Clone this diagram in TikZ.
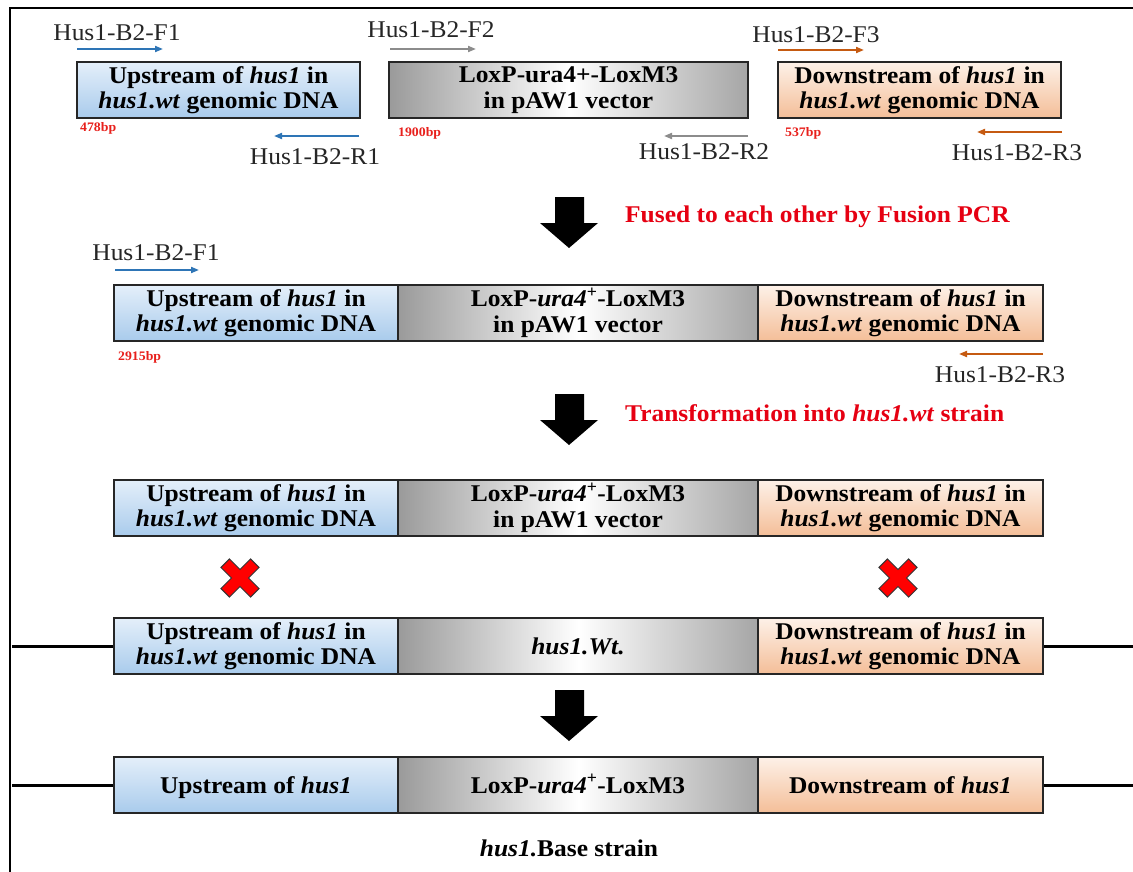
\documentclass[tikz,border=0pt]{standalone}
\usepackage{fontspec}
\setmainfont[FakeStretch=1.06]{Liberation Serif}
\usetikzlibrary{arrows.meta}

\definecolor{upT}{HTML}{E4EFFA}
\definecolor{upB}{HTML}{A9CBEC}
\definecolor{dnT}{HTML}{FDF1E8}
\definecolor{dnB}{HTML}{F4BE98}
\definecolor{gxL}{HTML}{9A9A9A}
\definecolor{gxR}{HTML}{A6A6A6}
\definecolor{pblue}{HTML}{2E75B6}
\definecolor{pgray}{HTML}{8C8C8C}
\definecolor{porange}{HTML}{C55A11}
\definecolor{bpred}{HTML}{E8201C}
\definecolor{stepred}{HTML}{E60012}

\newcommand{\boxfont}{\fontsize{24}{25.5}\selectfont\bfseries}
\newcommand{\primerfont}{\fontsize{24}{25}\selectfont}
\newcommand{\bpfont}{\fontsize{13}{14}\selectfont\bfseries}
\newcommand{\stepfont}{\fontsize{24}{25}\selectfont\bfseries}

\tikzset{
  seg/.style={draw=black!85, line width=1.6pt, minimum height=56pt, inner sep=0pt,
    align=center, font=\boxfont},
  upbox/.style={seg, top color=upT, bottom color=upB},
  loxbox/.style={seg, left color=gxL, right color=gxR, middle color=white},
  dnbox/.style={seg, top color=dnT, bottom color=dnB},
  % one-line labels: capitals centred in the box whatever the descenders
  oneline/.style={text height=16pt, text depth=0pt},
  primer/.style={font=\primerfont, inner sep=0pt, text=black!85},
  bplabel/.style={font=\bpfont, text=bpred, inner sep=0pt, anchor=west},
  parr/.style={line width=1.8pt, -{Triangle[length=8pt,width=6pt]}},
  steptext/.style={font=\stepfont, text=stepred, inner sep=0pt, anchor=west},
  chrom/.style={line width=3pt, black},
  crossmark/.style={fill=red, draw=black!80, line width=1pt, line join=miter},
}

% block down arrow centred at x, top at y
\newcommand{\downarrowat}[2]{%
  \fill[black] (#1-14,#2) -- (#1+15,#2) -- (#1+15,#2+26) -- (#1+29,#2+26)
    -- (#1,#2+51) -- (#1-29,#2+26) -- (#1-14,#2+26) -- cycle;}
% red cross centred at (x,y)
\newcommand{\crossat}[2]{%
  \draw[crossmark, shift={(#1,#2)}, rotate=45]
    (6,21) -- (6,6) -- (21,6) -- (21,-6) -- (6,-6) -- (6,-21) -- (-6,-21)
    -- (-6,-6) -- (-21,-6) -- (-21,6) -- (-6,6) -- (-6,21) -- cycle;}

\begin{document}
\begin{tikzpicture}[x=1pt,y=-1pt]
\useasboundingbox (0,0) rectangle (1133,872);
\fill[white] (0,0) rectangle (1133,872);
\draw[line width=2pt] (10,872) -- (10,8) -- (1133,8);

% ---- separate PCR fragments ----
\node[upbox, minimum width=283pt] (a1) at (218.5,90) {Upstream of \textit{hus1} in\\\textit{hus1.wt} genomic DNA};
\node[loxbox, minimum width=359pt] (a2) at (568.5,90) {LoxP-ura4+-LoxM3\\in pAW1 vector};
\node[dnbox, minimum width=283pt] (a3) at (919.5,90) {Downstream of \textit{hus1} in\\\textit{hus1.wt} genomic DNA};

\node[primer] (f1) at (117,33) {Hus1-B2-F1};
\coordinate (f1s) at (77,49); \coordinate (f1e) at (163,49);
\draw[parr, pblue] (f1s) -- (f1e);
\node[bplabel] (bp1) at (80,128) {478bp};
\coordinate (r1s) at (359,136); \coordinate (r1e) at (274,136);
\draw[parr, pblue] (r1s) -- (r1e);
\node[primer] (r1) at (315,157) {Hus1-B2-R1};

\node[primer] (f2) at (431,30) {Hus1-B2-F2};
\coordinate (f2s) at (390,49); \coordinate (f2e) at (476,49);
\draw[parr, pgray] (f2s) -- (f2e);
\node[bplabel] (bp2) at (398,133) {1900bp};
\coordinate (r2s) at (748,136); \coordinate (r2e) at (664,136);
\draw[parr, pgray] (r2s) -- (r2e);
\node[primer] (r2) at (704,152) {Hus1-B2-R2};

\node[primer] (f3) at (816,35) {Hus1-B2-F3};
\coordinate (f3s) at (778,50); \coordinate (f3e) at (864,50);
\draw[parr, porange] (f3s) -- (f3e);
\node[bplabel] (bp3) at (785,133) {537bp};
\coordinate (r3s) at (1062,132); \coordinate (r3e) at (977,132);
\draw[parr, porange] (r3s) -- (r3e);
\node[primer] (r3) at (1017,153) {Hus1-B2-R3};

% ---- fusion PCR ----
\downarrowat{569}{197}
\node[steptext] (s1) at (625,217) {Fused to each other by Fusion PCR};

\node[upbox, minimum width=284pt] (b1) at (256,313) {Upstream of \textit{hus1} in\\\textit{hus1.wt} genomic DNA};
\node[loxbox, minimum width=360pt] (b2) at (578,313) {LoxP-\textit{ura4}\textsuperscript{+}-LoxM3\\in pAW1 vector};
\node[dnbox, minimum width=285pt] (b3) at (900.5,313) {Downstream of \textit{hus1} in\\\textit{hus1.wt} genomic DNA};

\node[primer] (g1) at (156,253) {Hus1-B2-F1};
\coordinate (g1s) at (115,270); \coordinate (g1e) at (199,270);
\draw[parr, pblue] (g1s) -- (g1e);
\node[bplabel] (bp4) at (118,357) {2915bp};
\coordinate (g3s) at (1043,354); \coordinate (g3e) at (959,354);
\draw[parr, porange] (g3s) -- (g3e);
\node[primer] (g3) at (1000,375) {Hus1-B2-R3};

% ---- transformation ----
\downarrowat{569}{394}
\node[steptext] (s2) at (625,413) {Transformation into \textit{hus1.wt} strain};

\node[upbox, minimum width=284pt] (c1) at (256,508) {Upstream of \textit{hus1} in\\\textit{hus1.wt} genomic DNA};
\node[loxbox, minimum width=360pt] (c2) at (578,508) {LoxP-\textit{ura4}\textsuperscript{+}-LoxM3\\in pAW1 vector};
\node[dnbox, minimum width=285pt] (c3) at (900.5,508) {Downstream of \textit{hus1} in\\\textit{hus1.wt} genomic DNA};

\crossat{240}{578}
\crossat{898}{578}

% ---- genomic locus ----
\node[upbox, minimum width=284pt] (d1) at (256,646) {Upstream of \textit{hus1} in\\\textit{hus1.wt} genomic DNA};
\node[loxbox, oneline, minimum width=360pt] (d2) at (578,646) {\textit{hus1.Wt.}};
\node[dnbox, minimum width=285pt] (d3) at (900.5,646) {Downstream of \textit{hus1} in\\\textit{hus1.wt} genomic DNA};
\coordinate (dl) at (12,646); \coordinate (dr) at (1133,646);
\draw[chrom] (dl) -- (d1.west);
\draw[chrom] (d3.east) -- (dr);

\downarrowat{569}{690}

% ---- resulting strain ----
\node[upbox, oneline, minimum width=284pt] (e1) at (256,785) {Upstream of \textit{hus1}};
\node[loxbox, oneline, minimum width=360pt] (e2) at (578,785) {LoxP-\textit{ura4}\textsuperscript{+}-LoxM3};
\node[dnbox, oneline, minimum width=285pt] (e3) at (900.5,785) {Downstream of \textit{hus1}};
\coordinate (el) at (12,785); \coordinate (er) at (1133,785);
\draw[chrom] (el) -- (e1.west);
\draw[chrom] (e3.east) -- (er);

\node[font=\stepfont, inner sep=0pt] (title) at (569,848) {\textit{hus1.}Base strain};
\end{tikzpicture}
\end{document}
